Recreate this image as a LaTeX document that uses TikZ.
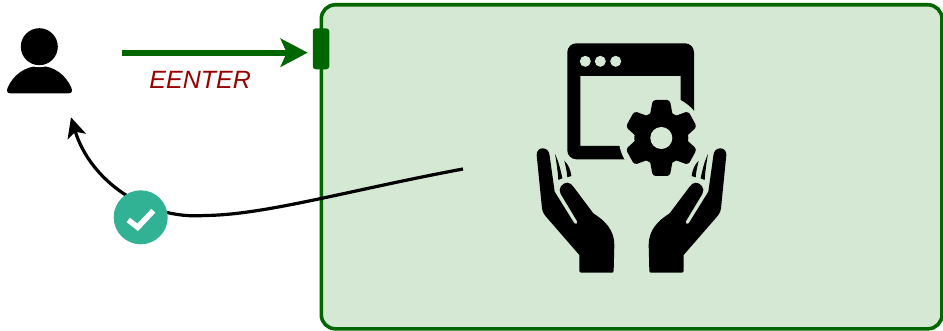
\documentclass[tikz,border=0pt]{standalone}
\usepackage{fontspec}
\setmainfont{Liberation Sans}
\usetikzlibrary{arrows.meta}
\definecolor{boxfill}{HTML}{D5E8D4}
\definecolor{boxline}{HTML}{006600}
\definecolor{labelred}{HTML}{990000}
\definecolor{checkteal}{HTML}{31B294}
\tikzset{
  container/.style={draw=boxline,fill=boxfill,line width=3.6pt,rounded corners=14pt,inner sep=0pt,outer sep=0pt,minimum width=620.7pt,minimum height=324pt},
  portbox/.style={fill=boxline,rounded corners=3pt,inner sep=0pt,minimum width=16.5pt,minimum height=41pt},
  enterarrow/.style={draw=boxline,line width=6pt,-{Stealth[length=27pt,width=28pt,inset=6pt]}},
  returnarrow/.style={draw=black,line width=3.2pt,-{Stealth[length=20pt,width=19pt,inset=5pt]}},
  enterlabel/.style={text=labelred,font=\fontsize{25pt}{28pt}\selectfont\itshape,inner sep=0pt,anchor=base},
  checkbadge/.style={circle,fill=checkteal,inner sep=0pt,minimum size=54pt},
  headdisc/.style={circle,fill=black,inner sep=0pt,minimum size=37pt},
}
\newcommand{\handshape}{%
  \fill (50,375) .. controls (50,362) and (58,355) .. (68,355)
    .. controls (80,355) and (88,363) .. (89,378) -- (104,485) -- (163,580)
    .. controls (167,585) and (174,580) .. (172,575) -- (122,492)
    .. controls (112,475) and (128,458) .. (142,458)
    .. controls (150,458) and (155,464) .. (160,470) -- (220,550)
    .. controls (255,572) and (283,600) .. (283,645) -- (281,722)
    .. controls (281,726) and (279,728) .. (276,728) -- (185,728)
    .. controls (180,728) and (178,726) .. (178,722) -- (178,675)
    -- (78,560) .. controls (68,548) and (66,540) .. (65,525) -- cycle;
  \fill (105,372) .. controls (116,395) and (122,420) .. (127,445) -- (115,450)
    .. controls (113,420) and (109,395) .. (105,372) -- cycle;
  \fill (133,392) .. controls (146,405) and (152,420) .. (154,438) -- (142,442)
    .. controls (141,425) and (137,410) .. (133,392) -- cycle;
}
\begin{document}
\begin{tikzpicture}[x=1pt,y=-1pt]
\useasboundingbox (0,0) rectangle (943,331);
% container and port
\node[container,anchor=north west] (box) at (321.3,4.8) {};
\node[portbox] (port) at (321,48.8) {};
% user
\fill (10,93.3) -- (69,93.3) .. controls (72.5,93.3) and (72.5,90) .. (71,87)
  .. controls (66,76) and (55,66) .. (40,66)
  .. controls (24,66) and (13,76) .. (8,87)
  .. controls (6.5,90) and (6.5,93.3) .. (10,93.3) -- cycle;
\fill[white] (39.3,46.7) circle (20.5);
\node[headdisc] (head) at (39.3,46.7) {};
% enter arrow
\coordinate (enterfrom) at (121.5,52.7);
\coordinate (enterto) at (307.7,52.7);
\draw[enterarrow] (enterfrom) -- (enterto);
\node[enterlabel] (enter) at (200.2,89) {EENTER};
% return curve
\coordinate (retfrom) at (463,169);
\coordinate (retmid) at (205,215.5);
\coordinate (retto) at (71,117.3);
\draw[returnarrow] (retfrom) .. controls (350,190) and (265,215) .. (retmid)
  .. controls (145,220) and (90,180) .. (retto);
\node[checkbadge] (check) at (140.7,217.3) {};
\draw[white,line width=5.5pt] (128.3,220) -- (137.7,227.3) -- (153.3,210.7);
% window icon
\fill[even odd rule,rounded corners=9pt] (567.3,43.3) rectangle (694,159.3)
  [sharp corners] (580.3,76) rectangle (680.7,146);
\fill[boxfill] (585.3,61.3) circle (5.5) (600.3,61.3) circle (5.5) (615.7,61.3) circle (5.5);
% gear
\fill[boxfill] (661.3,138) circle (42.5);
\foreach \a in {0,60,...,300}{
  \fill[rounded corners=3pt,shift={(661.3,138)},xscale=0.95,rotate=\a] (-12.5,-20) -- (-9,-38) -- (9,-38) -- (12.5,-20) -- cycle;
}
\fill (661.3,138) circle (27);
\fill[boxfill] (661.3,138) circle (11);
% hands
\begin{scope}[shift={(520,30)},x=0.33333pt,y=-0.33333pt]
  \handshape
\end{scope}
\begin{scope}[shift={(743,30)},x=-0.33333pt,y=-0.33333pt]
  \handshape
\end{scope}
\end{tikzpicture}
\end{document}
